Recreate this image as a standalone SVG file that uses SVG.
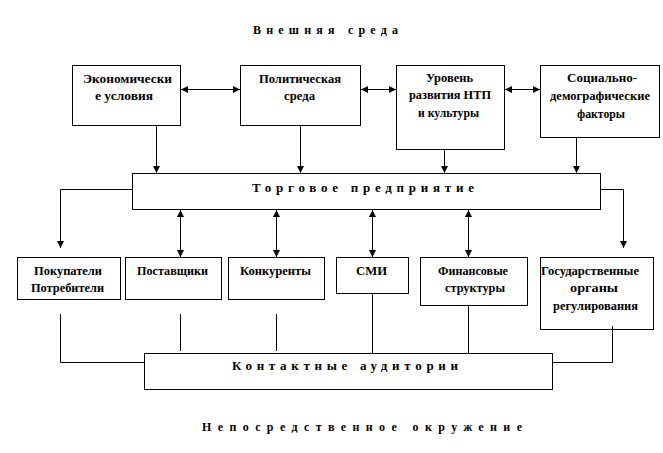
<svg xmlns="http://www.w3.org/2000/svg" width="663" height="453" viewBox="0 0 663 453">
<defs>
<marker id="ah" markerWidth="7" markerHeight="7" refX="7" refY="3.5" orient="auto-start-reverse" markerUnits="userSpaceOnUse">
<path d="M0,0 L7,3.5 L0,7 z" fill="#000"/>
</marker>
</defs>
<style>
rect{fill:#fff;stroke:#000;stroke-width:1}
text{font-family:"Liberation Serif","Times New Roman",serif;font-weight:bold;font-size:13px;fill:#000}
.sp{font-size:12px}
.sm{font-size:13px}
.c path,.c line{fill:none;stroke:#000;stroke-width:1}
.a{marker-end:url(#ah)}
.b{marker-start:url(#ah);marker-end:url(#ah)}
</style>
<rect x="0" y="0" width="663" height="453" style="fill:#fff;stroke:none"/>
<text class="sp" x="253" y="34" textLength="145" lengthAdjust="spacing">Внешняя среда</text>
<g id="n-econ"><rect x="72.5" y="65.5" width="108" height="60"/>
<text x="83" y="83" textLength="89" lengthAdjust="spacingAndGlyphs">Экономически</text>
<text x="95" y="100" textLength="58" lengthAdjust="spacingAndGlyphs">е условия</text></g>
<g id="n-polit"><rect x="240.5" y="65.5" width="120" height="60"/>
<text x="259" y="83" textLength="82" lengthAdjust="spacingAndGlyphs">Политическая</text>
<text x="284" y="100" textLength="31" lengthAdjust="spacingAndGlyphs">среда</text></g>
<g id="n-ntp"><rect x="396.5" y="65.5" width="108" height="84"/>
<text x="426" y="82" textLength="47" lengthAdjust="spacingAndGlyphs">Уровень</text>
<text x="409" y="99" textLength="82" lengthAdjust="spacingAndGlyphs">развития НТП</text>
<text x="418" y="117" textLength="61" lengthAdjust="spacingAndGlyphs">и культуры</text></g>
<g id="n-soc"><rect x="540.5" y="65.5" width="119" height="72"/>
<text x="567" y="82" textLength="70" lengthAdjust="spacingAndGlyphs">Социально-</text>
<text x="550" y="100" textLength="100" lengthAdjust="spacingAndGlyphs">демографические</text>
<text x="577" y="118" textLength="48" lengthAdjust="spacingAndGlyphs">факторы</text></g>
<g id="n-trade"><rect x="132.5" y="173.5" width="468" height="36"/>
<text class="sm" x="252" y="192" textLength="222" lengthAdjust="spacing">Торговое предприятие</text></g>
<g id="n-buy"><rect x="17.5" y="257.5" width="103" height="42"/>
<text x="34" y="275" textLength="68" lengthAdjust="spacingAndGlyphs">Покупатели</text>
<text x="31" y="292" textLength="73" lengthAdjust="spacingAndGlyphs">Потребители</text></g>
<g id="n-sup"><rect x="125.5" y="257.5" width="96" height="42"/>
<text x="137" y="275" textLength="71" lengthAdjust="spacingAndGlyphs">Поставщики</text></g>
<g id="n-comp"><rect x="228.5" y="257.5" width="96" height="42"/>
<text x="240" y="275" textLength="71" lengthAdjust="spacingAndGlyphs">Конкуренты</text></g>
<g id="n-smi"><rect x="336.5" y="257.5" width="72" height="36"/>
<text x="356" y="275" textLength="31" lengthAdjust="spacingAndGlyphs">СМИ</text></g>
<g id="n-fin"><rect x="420.5" y="257.5" width="107" height="48"/>
<text x="438" y="275" textLength="70" lengthAdjust="spacingAndGlyphs">Финансовые</text>
<text x="445" y="292" textLength="60" lengthAdjust="spacingAndGlyphs">структуры</text></g>
<g id="n-gov"><rect x="540.5" y="257.5" width="113" height="72"/>
<text x="541" y="275" textLength="98" lengthAdjust="spacingAndGlyphs">Государственные</text>
<text x="570" y="292" textLength="48" lengthAdjust="spacingAndGlyphs">органы</text>
<text x="553" y="310" textLength="85" lengthAdjust="spacingAndGlyphs">регулирования</text></g>
<g id="n-contact"><rect x="144.5" y="353.5" width="408" height="36"/>
<text class="sm" x="232" y="370" textLength="226" lengthAdjust="spacing">Контактные аудитории</text></g>
<text class="sp" x="202" y="431" textLength="320" lengthAdjust="spacing">Непосредственное окружение</text>
<g id="connectors" class="c">
<line class="b" x1="181" y1="89.5" x2="240" y2="89.5"/>
<line class="b" x1="361" y1="89.5" x2="396" y2="89.5"/>
<line class="b" x1="505" y1="89.5" x2="540" y2="89.5"/>
<line class="a" x1="156.5" y1="126" x2="156.5" y2="173"/>
<line class="a" x1="300.5" y1="126" x2="300.5" y2="173"/>
<line class="a" x1="444.5" y1="150" x2="444.5" y2="173"/>
<line class="a" x1="576.5" y1="138" x2="576.5" y2="173"/>
<path class="a" d="M132,189.5 H60.5 V248"/>
<path class="a" d="M601,189.5 H623.5 V248"/>
<line class="b" x1="180.5" y1="210" x2="180.5" y2="257"/>
<line class="b" x1="276.5" y1="210" x2="276.5" y2="257"/>
<line class="b" x1="372.5" y1="210" x2="372.5" y2="257"/>
<line class="b" x1="468.5" y1="210" x2="468.5" y2="257"/>
<path d="M60.5,314 V362.5 H144"/>
<line x1="180.5" y1="314" x2="180.5" y2="351"/>
<line x1="276.5" y1="314" x2="276.5" y2="351"/>
<line x1="372.5" y1="294" x2="372.5" y2="353"/>
<line x1="468.5" y1="306" x2="468.5" y2="353"/>
<path d="M612.5,326 V362.5 H553"/>
</g>
</svg>
